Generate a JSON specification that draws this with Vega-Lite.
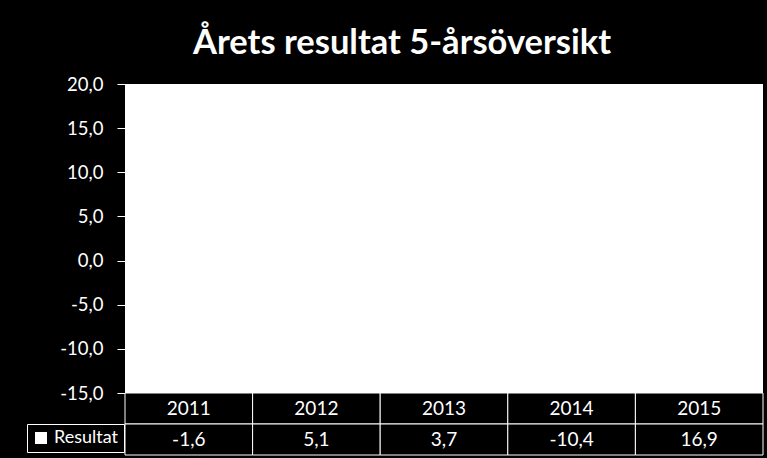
{
  "$schema": "https://vega.github.io/schema/vega-lite/v6.json",
  "background": "black",
  "padding": {"left": 26, "top": 25, "right": 5, "bottom": 3},
  "config": {
    "locale": {
      "number": {
        "decimal": ",",
        "thousands": " ",
        "grouping": [3],
        "currency": ["", " kr"],
        "minus": "-"
      }
    },
    "font": "Lato",
    "view": {"stroke": null},
    "concat": {"spacing": 0}
  },
  "title": {
    "text": "Årets resultat 5-årsöversikt",
    "color": "white",
    "font": "Lato",
    "fontSize": 34.5,
    "fontWeight": "bold",
    "anchor": "middle",
    "dx": 7,
    "offset": 14
  },
  "datasets": {
    "resultat": [
      {"year": "2011", "value": -1.6, "serie": "Resultat"},
      {"year": "2012", "value": 5.1, "serie": "Resultat"},
      {"year": "2013", "value": 3.7, "serie": "Resultat"},
      {"year": "2014", "value": -10.4, "serie": "Resultat"},
      {"year": "2015", "value": 16.9, "serie": "Resultat"}
    ]
  },
  "bounds": "flush",
  "vconcat": [
    {
      "width": 638,
      "height": 309,
      "view": {"fill": "white", "stroke": null},
      "data": {"name": "resultat"},
      "mark": {"type": "bar", "color": "white"},
      "encoding": {
        "x": {
          "field": "year",
          "type": "ordinal",
          "axis": null,
          "scale": {"paddingInner": 0.6, "paddingOuter": 0.3}
        },
        "y": {
          "field": "value",
          "type": "quantitative",
          "scale": {"domain": [-15, 20], "nice": false},
          "axis": {
            "title": null,
            "values": [-15, -10, -5, 0, 5, 10, 15, 20],
            "format": ".1f",
            "grid": false,
            "domain": false,
            "tickColor": "white",
            "tickSize": 8,
            "labelColor": "white",
            "labelFont": "Lato",
            "labelFontSize": 18.5,
            "labelPadding": 14
          }
        }
      }
    },
    {
      "width": 638,
      "height": 62,
      "data": {"name": "resultat"},
      "encoding": {
        "x": {
          "field": "year",
          "type": "ordinal",
          "axis": null,
          "scale": {"paddingInner": 0, "paddingOuter": 0}
        }
      },
      "layer": [
        {
          "mark": {"type": "rect", "fill": "black", "stroke": "white", "strokeWidth": 1},
          "encoding": {
            "y": {
              "datum": "År",
              "type": "nominal",
              "scale": {"domain": ["År", "Resultat"], "paddingInner": 0, "paddingOuter": 0},
              "axis": null
            }
          }
        },
        {
          "mark": {"type": "rect", "fill": "black", "stroke": "white", "strokeWidth": 1},
          "encoding": {
            "y": {"datum": "Resultat", "type": "nominal"}
          }
        },
        {
          "mark": {"type": "text", "color": "white", "fontSize": 19, "font": "Lato"},
          "encoding": {
            "y": {"datum": "År", "type": "nominal"},
            "text": {"field": "year", "type": "nominal"}
          }
        },
        {
          "mark": {"type": "text", "fontSize": 19, "font": "Lato"},
          "encoding": {
            "y": {"datum": "Resultat", "type": "nominal"},
            "text": {"field": "value", "type": "quantitative", "format": ".1f"},
            "color": {
              "field": "serie",
              "type": "nominal",
              "scale": {"range": ["white"]},
              "legend": {
                "title": null,
                "orient": "none",
                "legendX": -98,
                "legendY": 31,
                "symbolType": "square",
                "symbolSize": 110,
                "symbolOpacity": 1,
                "symbolFillColor": "white",
                "symbolStrokeColor": "white",
                "symbolOffset": 0,
                "labelColor": "white",
                "labelFont": "Lato",
                "labelFontSize": 18,
                "labelOffset": 4,
                "strokeColor": "white",
                "padding": 5
              }
            }
          }
        }
      ]
    }
  ],
  "resolve": {
    "scale": {"x": "independent", "y": "independent"},
    "legend": {"color": "independent"}
  }
}
